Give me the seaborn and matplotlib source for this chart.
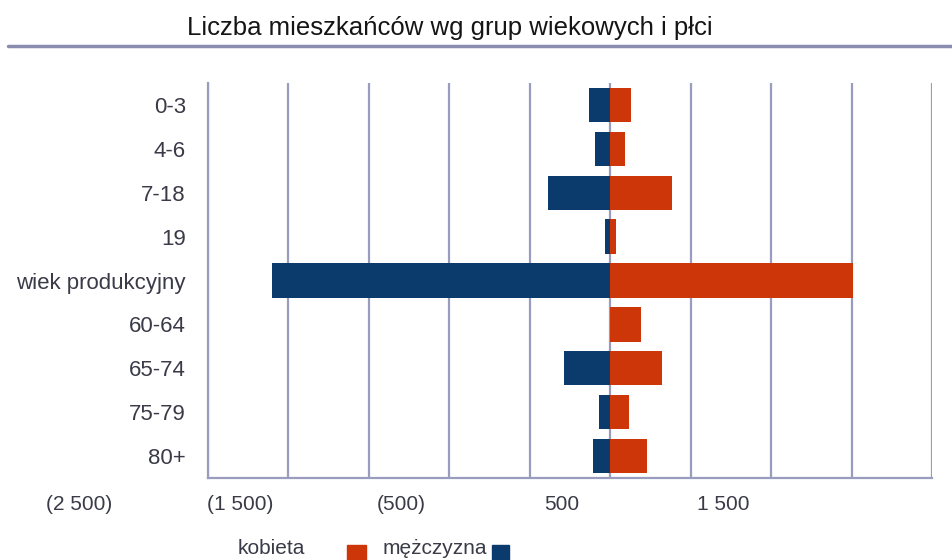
import matplotlib
matplotlib.use('Agg')
import matplotlib.pyplot as plt
import seaborn as sns
import pandas as pd
from matplotlib.patches import Rectangle
from matplotlib.lines import Line2D

grupy = ['0-3', '4-6', '7-18', '19', 'wiek produkcyjny', '60-64', '65-74', '75-79', '80+']
mezczyzni = [130, 93, 390, 31, 2100, 0, 286, 68, 106]
kobiety = [130, 93, 385, 37, 1510, 193, 323, 118, 230]
tick_vals = [-2500, -1500, -500, 500, 1500]
tick_labels = ['(2 500)', '(1 500)', '(500)', '500', '1 500']

blue = '#0b3a6c'
orange = '#cc3608'
grid_col = '#9a9cbf'
text_col = '#3a3a48'

df = pd.DataFrame({
    'grupa': grupy * 2,
    'liczba': [-v for v in mezczyzni] + kobiety,
    'plec': ['mężczyzna'] * len(grupy) + ['kobieta'] * len(grupy),
})

sns.set_style('white')
plt.rcParams['font.family'] = ['Liberation Sans', 'DejaVu Sans']

fig = plt.figure(figsize=(9.53, 5.6), dpi=100)
ax = fig.add_axes([0.2183, 0.1464, 0.7597, 0.7054])

sns.barplot(data=df, y='grupa', x='liczba', hue='plec', order=grupy, dodge=False,
            palette={'mężczyzna': blue, 'kobieta': orange}, orient='h',
            width=0.78, legend=False, ax=ax, saturation=1, linewidth=0)

ax.set_xlim(-2500, 2000)
ax.set_ylim(8.5, -0.5)
ax.set_xticks(range(-2500, 2001, 500))
ax.set_xticklabels([])
ax.set_xlabel('')
ax.set_ylabel('')
ax.tick_params(axis='both', length=0)
ax.tick_params(axis='y', labelsize=16, labelcolor=text_col, pad=16)
ax.grid(axis='x', color=grid_col, lw=1.6)
ax.grid(axis='y', visible=False)
ax.set_axisbelow(True)
for side in ['top', 'right']:
    ax.spines[side].set_visible(False)
for side in ['left', 'bottom']:
    ax.spines[side].set_color(grid_col)
    ax.spines[side].set_linewidth(1.6)

# x labels sit shifted left of their gridlines in the original
for v, lab in zip(tick_vals, tick_labels):
    ax.text(v - 800, -0.068, lab, transform=ax.get_xaxis_transform(),
            ha='center', va='center', fontsize=15, color=text_col, clip_on=False)

# title and rule
fig.text(450 / 953, 1 - 28 / 560, 'Liczba mieszkańców wg grup wiekowych i płci',
         ha='center', va='center', fontsize=18.5, color='#151515')
fig.add_artist(Line2D([8 / 953, 1], [1 - 46 / 560] * 2, color='#8a8cb0', lw=2.5))

# legend
fig.text(238 / 953, 1 - 548 / 560, 'kobieta', ha='left', va='center', fontsize=15, color=text_col)
fig.add_artist(Rectangle((347 / 953, 0), 19 / 953, 15 / 560, color=orange, transform=fig.transFigure))
fig.text(383 / 953, 1 - 548 / 560, 'mężczyzna', ha='left', va='center', fontsize=15, color=text_col)
fig.add_artist(Rectangle((492 / 953, 0), 17 / 953, 15 / 560, color=blue, transform=fig.transFigure))

fig.savefig('out.png', dpi=100)
